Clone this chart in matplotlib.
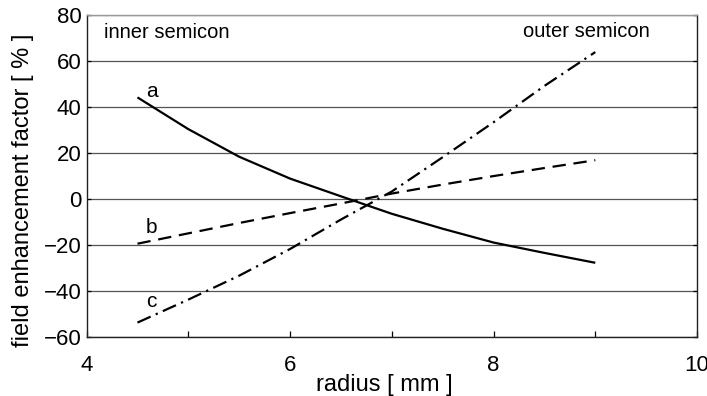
import matplotlib
matplotlib.use("Agg")
import matplotlib.pyplot as plt
from matplotlib.ticker import MultipleLocator

plt.rcParams['font.family'] = ['Liberation Sans', 'DejaVu Sans']

# radius positions [mm]
radius = [4.5, 5.0, 5.5, 6.0, 6.5, 7.0, 7.5, 8.0, 8.5, 9.0]
# field enhancement factor [%] for the three cases
curve_a = [44.3, 30.5, 18.5, 9.0, 1.3, -6.3, -12.8, -18.8, -23.3, -27.6]
curve_b = [-19.3, -14.8, -10.3, -6.0, -1.8, 2.5, 6.4, 10.1, 13.6, 17.0]
curve_c = [-53.6, -43.6, -33.2, -21.6, -8.8, 3.4, 18.3, 33.5, 49.3, 64.0]

x_ticks = [4, 6, 8, 10]
y_ticks = [-60, -40, -20, 0, 20, 40, 60, 80]

fig = plt.figure(figsize=(7.07, 3.96), dpi=100)
ax = fig.add_axes([0.1225, 0.1482, 0.8634, 0.8132])

lw = 1.6
ax.plot(radius, curve_a, color='black', lw=lw, solid_capstyle='butt',
        solid_joinstyle='round', zorder=3)
ax.plot(radius, curve_b, color='black', lw=lw, dashes=(6.0, 3.5), zorder=3)
ax.plot(radius, curve_c, color='black', lw=lw, dashes=(6.5, 2.5, 1.0, 2.5), zorder=3)

ax.set_xlim(4, 10)
ax.set_ylim(-60, 80)
ax.set_xticks(x_ticks)
ax.xaxis.set_minor_locator(MultipleLocator(1))
ax.set_yticks(y_ticks)

ax.yaxis.grid(True, color='#555555', lw=0.9)
ax.set_axisbelow(True)

ax.tick_params(axis='x', which='both', direction='in', length=4, width=0.9,
               pad=12.5, labelsize=16, colors='black')
ax.tick_params(axis='y', which='both', direction='in', length=3, width=0.9,
               pad=3.5, labelsize=16, right=True)

for side in ['left', 'bottom', 'right']:
    ax.spines[side].set_color('#222222')
    ax.spines[side].set_linewidth(1.0)
ax.spines['top'].set_color('#999999')
ax.spines['top'].set_linewidth(1.0)

ax.set_xlabel('radius [ mm ]', fontsize=17)
ax.xaxis.set_label_coords(0.487, -0.114)
ax.xaxis.label.set_va('top')
ax.set_ylabel('field enhancement factor [ % ]', fontsize=17)
ax.yaxis.set_label_coords(-0.105, 0.457)
ax.yaxis.label.set_va('center')

ax.text(4.17, 70.3, 'inner semicon', fontsize=14.5, ha='left', va='baseline')
ax.text(9.54, 70.7, 'outer semicon', fontsize=14.5, ha='right', va='baseline')
ax.text(4.64, 44.3, 'a', fontsize=15, ha='center', va='baseline')
ax.text(4.64, -14.8, 'b', fontsize=15, ha='center', va='baseline')
ax.text(4.64, -47.0, 'c', fontsize=15, ha='center', va='baseline')

fig.savefig('out.png', dpi=100)
